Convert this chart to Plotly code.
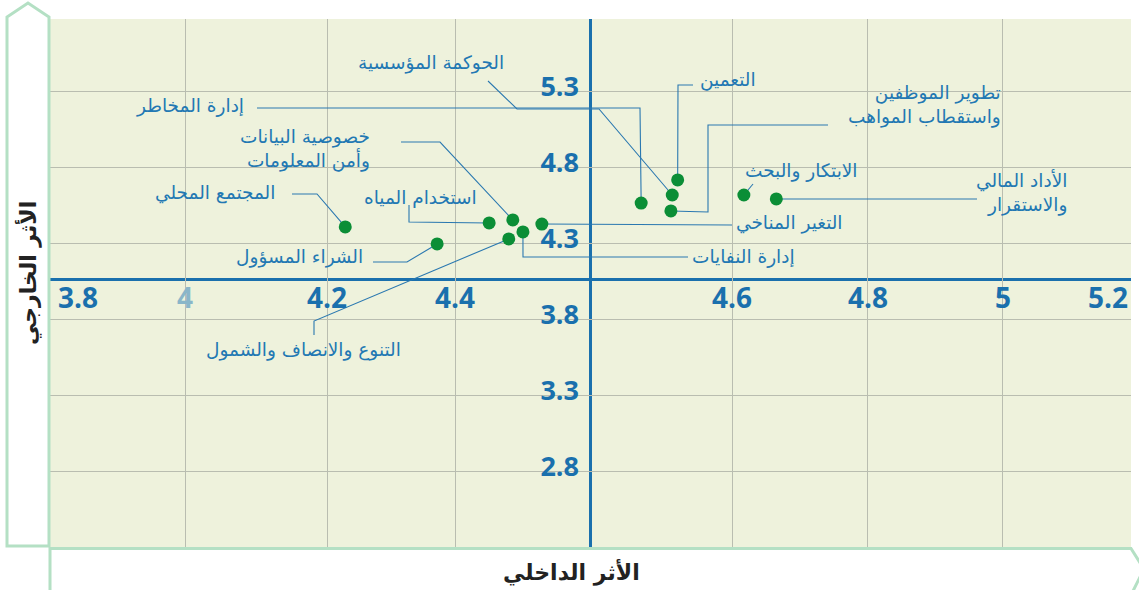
import plotly.graph_objects as go

# ---------------- data ----------------
categories = [
    "إدارة المخاطر",
    "الحوكمة المؤسسية",
    "التعمين",
    "تطوير الموظفين واستقطاب المواهب",
    "الابتكار والبحث",
    "الأداد المالي والاستقرار",
    "التغير المناخي",
    "إدارة النفايات",
    "التنوع والانصاف والشمول",
    "خصوصية البيانات وأمن المعلومات",
    "استخدام المياه",
    "الشراء المسؤول",
    "المجتمع المحلي",
]
# internal impact (x, in the chart's evenly spaced grid units) and external impact (y)
internal_impact = [4.675, 4.721, 4.729, 4.719, 4.827, 4.875, 4.528, 4.500, 4.479, 4.485, 4.450, 4.373, 4.237]
external_impact = [4.563, 4.616, 4.715, 4.511, 4.616, 4.590, 4.425, 4.373, 4.327, 4.452, 4.432, 4.294, 4.406]

x_tick_vals = [3.8, 4.0, 4.21, 4.40, 4.81, 5.01, 5.21, 5.4]
x_tick_text = ["3.8", "4", "4.2", "4.4", "4.6", "4.8", "5", "5.2"]
y_tick_vals = [2.8, 3.3, 3.8, 4.3, 4.8, 5.3]
y_tick_text = ["2.8", "3.3", "3.8", "4.3", "4.8", "5.3"]
x_center = 4.6
y_center = 4.06

x_title = "الأثر الداخلي"
y_title = "الأثر الخارجي"

# ---------------- layout helpers ----------------
W, H = 1139, 590
L, R, T, B = 50, 8, 19, 43
PW, PH = W - L - R, H - T - B
X0, X1 = 3.8, 5.4
Y0, Y1 = 2.3, 5.774


def px_x(px):
    return X0 + (px - L) / PW * (X1 - X0)


def px_y(py):
    return Y1 - (py - T) / PH * (Y1 - Y0)


def pap_x(px):
    return (px - L) / PW


def pap_y(py):
    return (H - B - py) / PH


BLUE = "#1a70ad"
LABEL_BLUE = "#2278b3"
LEADER = "#2a78b0"
GREEN = "#0b8e36"
PANEL = "#b4e0c4"
AR_FONT = "DejaVu Sans"
NUM_FONT = "Open Sans"

# label placement: (right edge px, centre px, text lines) and leader waypoints (px)
label_layout = [
    (246, 106, ["إدارة المخاطر"], [(257, 108), (640, 108)]),
    (506, 63, ["الحوكمة المؤسسية"], [(488, 81), (517, 109), (599, 109)]),
    (758, 80, ["التعمين"], [(693, 85), (678, 85)]),
    (1003, 105, ["تطوير الموظفين", "واستقطاب المواهب"], [(828, 125), (708, 125), (708, 212)]),
    (860, 171, ["الابتكار والبحث"], [(753, 184)]),
    (1069, 192, ["الأداد المالي", "والاستقرار"], [(977, 199)]),
    (845, 223, ["التغير المناخي"], [(732, 225)]),
    (797, 257, ["إدارة النفايات"], [(688, 257), (523, 257)]),
    (403, 350, ["التنوع والانصاف والشمول"], [(314, 335), (314, 321)]),
    (372, 149, ["خصوصية البيانات", "وأمن المعلومات"], [(401, 142), (440, 142)]),
    (479, 197, ["استخدام المياه"], [(409, 205), (409, 222)]),
    (365, 257, ["الشراء المسؤول"], [(373, 262), (407, 262)]),
    (277, 193, ["المجتمع المحلي"], [(292, 194), (317, 194)]),
]

fig = go.Figure()

# leader lines
for i, (_, _, _, pts) in enumerate(label_layout):
    xs = [px_x(p[0]) for p in pts] + [internal_impact[i]]
    ys = [px_y(p[1]) for p in pts] + [external_impact[i]]
    fig.add_trace(go.Scatter(x=xs, y=ys, mode="lines",
                             line=dict(color=LEADER, width=1.1),
                             hoverinfo="skip", showlegend=False))

# points
fig.add_trace(go.Scatter(
    x=internal_impact, y=external_impact, mode="markers",
    marker=dict(color=GREEN, size=13),
    text=categories, hovertemplate="%{text}<br>%{x}, %{y}<extra></extra>",
    showlegend=False,
))

annotations = []
for (rx, cy, lines, _) in label_layout:
    annotations.append(dict(
        x=px_x(rx), y=px_y(cy), xref="x", yref="y",
        text="<br>".join(lines), showarrow=False,
        xanchor="right", yanchor="middle", align="right",
        font=dict(family=AR_FONT, size=18.5, color=LABEL_BLUE),
    ))

# x tick labels along the centre line
for v, t in zip(x_tick_vals, x_tick_text):
    anchor, shift = "center", 0
    if v == x_tick_vals[0]:
        anchor, shift = "left", 6
    elif v == x_tick_vals[-1]:
        anchor, shift = "right", -1
    color = "#8ab6c9" if t == "4" else BLUE
    annotations.append(dict(
        x=v, y=y_center, xref="x", yref="y", text=t, showarrow=False,
        xanchor=anchor, yanchor="middle", xshift=shift, yshift=-17,
        font=dict(family=NUM_FONT, size=28, color=color, weight="bold"),
    ))

# axis titles
annotations.append(dict(
    x=pap_x(571), y=pap_y(572), xref="paper", yref="paper",
    text=x_title, showarrow=False, xanchor="center", yanchor="middle",
    font=dict(family=AR_FONT, size=22, color="#222222", weight="bold"),
))
annotations.append(dict(
    x=pap_x(28), y=pap_y(273), xref="paper", yref="paper",
    text=y_title, showarrow=False, textangle=-90, xanchor="center", yanchor="middle",
    font=dict(family=AR_FONT, size=22, color="#222222", weight="bold"),
))

shapes = [
    # centre cross lines
    dict(type="line", xref="x", yref="paper", x0=x_center, x1=x_center, y0=0, y1=1,
         line=dict(color=BLUE, width=3), layer="between"),
    dict(type="line", xref="paper", yref="y", x0=0, x1=1, y0=y_center, y1=y_center,
         line=dict(color=BLUE, width=3), layer="between"),
    # left title banner (arrow pointing up)
    dict(type="path", xref="paper", yref="paper",
         path="M {} {} L {} {} L {} {} L {} {} L {} {} Z".format(
             pap_x(7), pap_y(546), pap_x(7), pap_y(17), pap_x(28), pap_y(3),
             pap_x(49), pap_y(17), pap_x(49), pap_y(546)),
         line=dict(color=PANEL, width=3), fillcolor="white", layer="above"),
    # bottom title banner (arrow pointing right)
    dict(type="path", xref="paper", yref="paper",
         path="M {} {} L {} {} L {} {} L {} {} L {} {}".format(
             pap_x(50), pap_y(595), pap_x(50), pap_y(548.5), pap_x(1131), pap_y(548.5),
             pap_x(1144), pap_y(569), pap_x(1131), pap_y(595)),
         line=dict(color=PANEL, width=3), fillcolor="white", layer="above"),
]

fig.update_layout(
    width=W, height=H,
    margin=dict(l=L, r=R, t=T, b=B, pad=0),
    paper_bgcolor="white", plot_bgcolor="#eef2dc",
    xaxis=dict(range=[X0, X1], tickvals=x_tick_vals[1:-1], showticklabels=False,
               showgrid=True, gridcolor="#b9bdb0", gridwidth=1, zeroline=False,
               showline=False, ticks="", fixedrange=True),
    yaxis=dict(range=[Y0, Y1], tickvals=y_tick_vals, ticktext=y_tick_text,
               anchor="free", position=pap_x(589), side="left",
               showgrid=True, gridcolor="#b9bdb0", gridwidth=1, zeroline=False,
               showline=False, ticks="", ticklabelstandoff=10, ticklabelshift=-4,
               tickfont=dict(family=NUM_FONT, size=27, color=BLUE, weight="bold"),
               fixedrange=True),
    annotations=annotations,
    shapes=shapes,
    showlegend=False,
)

fig.write_html("out.html", config={"displayModeBar": False},
               post_script="document.body.style.margin='0';")
